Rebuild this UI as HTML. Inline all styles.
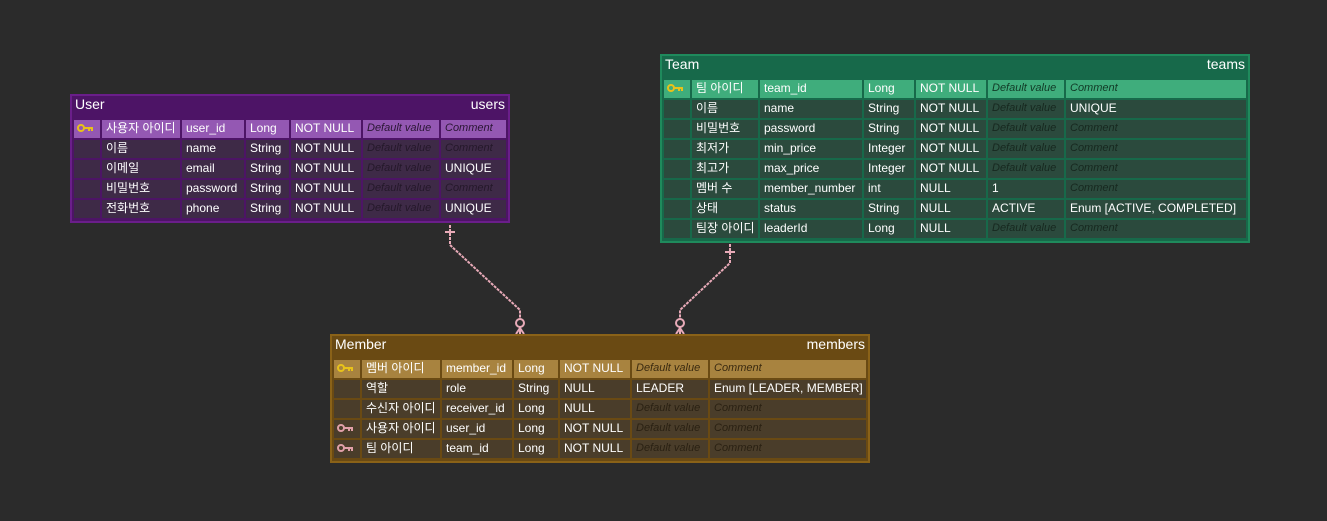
<!DOCTYPE html>
<html><head><meta charset="utf-8"><style>
body{margin:0;width:1327px;height:521px;background:#2b2b2b;position:relative;overflow:hidden;font-family:"Liberation Sans","Noto Sans CJK KR",sans-serif;font-size:12px;color:#fff}
.t{position:absolute;box-sizing:border-box;border:2px solid}
.h{height:24px;display:flex;justify-content:space-between;align-items:flex-start;padding:0 3px;font-size:14px;line-height:16px}
.b{padding:0 2px 2px 2px;display:flex;flex-direction:column;gap:2px}
.r{display:grid;gap:2px;height:18px}
.r div{padding-left:4px;line-height:16px;white-space:nowrap;overflow:hidden}
.i{font-style:italic;font-size:11px}
.k{padding-left:3px!important}
.k svg{margin-top:4px}
.u{left:70px;top:94px;width:440px;height:129px;background:#4d1466;border-color:#6a1e8a}
.u .r{grid-template-columns:26px 78px 62px 43px 70px 76px 65px}
.u .r div{background:#3e2a47}.u .p div{background:#9458b3}
.u .r .i{color:#24182a}.u .p .i{color:#2a1634}
.tm{left:660px;top:54px;width:590px;height:189px;background:#17694a;border-color:#1f8a5c}
.tm .r{grid-template-columns:26px 66px 102px 50px 70px 76px 180px}
.tm .r div{background:#2b4a3d}.tm .p div{background:#3fad7c}
.tm .r .i{color:#17281f}.tm .p .i{color:#113a26}
.m{left:330px;top:334px;width:540px;height:129px;background:#6a4a13;border-color:#8a6218}
.m .r{grid-template-columns:26px 78px 70px 44px 70px 76px 156px}
.m .r div{background:#4a3d2a}.m .p div{background:#a8833f}
.m .r .i{color:#2a2113}.m .p .i{color:#3a2a10}
</style></head><body>
<svg width="0" height="0" style="position:absolute"><defs>
<g id="key"><circle cx="4" cy="4" r="3" fill="none" stroke-width="2"/><path d="M7 4 H16 M12 4 V7 M15 4 V7" fill="none" stroke-width="2"/></g>
</defs></svg>
<svg width="1327" height="521" style="position:absolute;left:0;top:0">
<g stroke="#e8aab8" stroke-width="2" fill="none">
<path d="M450 225 V245 L520 310 V334" stroke-dasharray="3,1"/>
<path d="M445 232 H455"/>
<circle cx="520" cy="323" r="4" fill="#2b2b2b"/>
<path d="M516 334 L520 328 L524 334 M520 327 V334"/>
<path d="M730 244 V263 L680 310 V334" stroke-dasharray="3,1"/>
<path d="M725 252 H735"/>
<circle cx="680" cy="323" r="4" fill="#2b2b2b"/>
<path d="M676 334 L680 328 L684 334 M680 327 V334"/>
</g></svg>

<div class="t u"><div class="h"><span>User</span><span>users</span></div><div class="b">
<div class="r p"><div class="k"><svg width="18" height="9"><use href="#key" stroke="#e8c21a"/></svg></div><div>사용자 아이디</div><div>user_id</div><div>Long</div><div>NOT NULL</div><div class="i">Default value</div><div class="i">Comment</div></div>
<div class="r"><div></div><div>이름</div><div>name</div><div>String</div><div>NOT NULL</div><div class="i">Default value</div><div class="i">Comment</div></div>
<div class="r"><div></div><div>이메일</div><div>email</div><div>String</div><div>NOT NULL</div><div class="i">Default value</div><div>UNIQUE</div></div>
<div class="r"><div></div><div>비밀번호</div><div>password</div><div>String</div><div>NOT NULL</div><div class="i">Default value</div><div class="i">Comment</div></div>
<div class="r"><div></div><div>전화번호</div><div>phone</div><div>String</div><div>NOT NULL</div><div class="i">Default value</div><div>UNIQUE</div></div>
</div></div>

<div class="t tm"><div class="h"><span>Team</span><span>teams</span></div><div class="b">
<div class="r p"><div class="k"><svg width="18" height="9"><use href="#key" stroke="#e8c21a"/></svg></div><div>팀 아이디</div><div>team_id</div><div>Long</div><div>NOT NULL</div><div class="i">Default value</div><div class="i">Comment</div></div>
<div class="r"><div></div><div>이름</div><div>name</div><div>String</div><div>NOT NULL</div><div class="i">Default value</div><div>UNIQUE</div></div>
<div class="r"><div></div><div>비밀번호</div><div>password</div><div>String</div><div>NOT NULL</div><div class="i">Default value</div><div class="i">Comment</div></div>
<div class="r"><div></div><div>최저가</div><div>min_price</div><div>Integer</div><div>NOT NULL</div><div class="i">Default value</div><div class="i">Comment</div></div>
<div class="r"><div></div><div>최고가</div><div>max_price</div><div>Integer</div><div>NOT NULL</div><div class="i">Default value</div><div class="i">Comment</div></div>
<div class="r"><div></div><div>멤버 수</div><div>member_number</div><div>int</div><div>NULL</div><div>1</div><div class="i">Comment</div></div>
<div class="r"><div></div><div>상태</div><div>status</div><div>String</div><div>NULL</div><div>ACTIVE</div><div>Enum [ACTIVE, COMPLETED]</div></div>
<div class="r"><div></div><div>팀장 아이디</div><div>leaderId</div><div>Long</div><div>NULL</div><div class="i">Default value</div><div class="i">Comment</div></div>
</div></div>

<div class="t m"><div class="h"><span>Member</span><span>members</span></div><div class="b">
<div class="r p"><div class="k"><svg width="18" height="9"><use href="#key" stroke="#e8c21a"/></svg></div><div>멤버 아이디</div><div>member_id</div><div>Long</div><div>NOT NULL</div><div class="i">Default value</div><div class="i">Comment</div></div>
<div class="r"><div></div><div>역할</div><div>role</div><div>String</div><div>NULL</div><div>LEADER</div><div>Enum [LEADER, MEMBER]</div></div>
<div class="r"><div></div><div>수신자 아이디</div><div>receiver_id</div><div>Long</div><div>NULL</div><div class="i">Default value</div><div class="i">Comment</div></div>
<div class="r"><div class="k"><svg width="18" height="9"><use href="#key" stroke="#e0a0a8"/></svg></div><div>사용자 아이디</div><div>user_id</div><div>Long</div><div>NOT NULL</div><div class="i">Default value</div><div class="i">Comment</div></div>
<div class="r"><div class="k"><svg width="18" height="9"><use href="#key" stroke="#e0a0a8"/></svg></div><div>팀 아이디</div><div>team_id</div><div>Long</div><div>NOT NULL</div><div class="i">Default value</div><div class="i">Comment</div></div>
</div></div>
</body></html>
